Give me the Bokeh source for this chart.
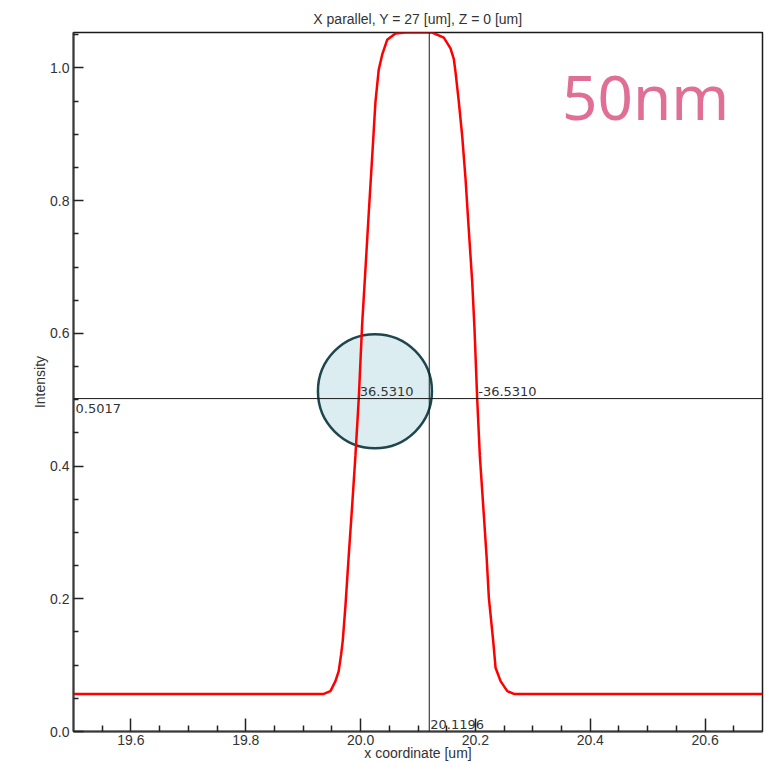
from bokeh.plotting import figure
from bokeh.models import Span, Label, FixedTicker, Range1d, ColumnDataSource
from bokeh.embed import file_html
from bokeh.resources import INLINE

# ---- data ----
title_text = "X parallel, Y = 27 [um], Z = 0 [um]"
x_label = "x coordinate [um]"
y_label = "Intensity"

profile_x = [19.50, 19.9358, 19.9475, 19.9562, 19.9619, 19.9661, 19.9689, 19.9736,
             19.9793, 19.9853, 19.9910, 19.9968, 20.0027, 20.0085, 20.0142, 20.0201,
             20.0259, 20.0316, 20.0376, 20.0463, 20.0607, 20.0780, 20.1247, 20.1450,
             20.1566, 20.1624, 20.1653, 20.1711, 20.1770, 20.1828, 20.1885, 20.1944,
             20.1984, 20.2031, 20.2077, 20.2136, 20.2194, 20.2234, 20.2310, 20.2351,
             20.2438, 20.2555, 20.2670, 20.70]
profile_y = [0.0567, 0.0567, 0.0608, 0.0759, 0.0910, 0.1162, 0.1363, 0.1890,
             0.2644, 0.3399, 0.4153, 0.5015, 0.6132, 0.6971, 0.7810, 0.8649,
             0.9488, 0.9973, 1.0200, 1.0424, 1.0520, 1.0534, 1.0534, 1.0457,
             1.0296, 1.0134, 0.9941, 0.9488, 0.8972, 0.8326, 0.7552, 0.6778,
             0.6067, 0.5015, 0.4153, 0.3399, 0.2644, 0.2015, 0.1363, 0.0960,
             0.0759, 0.0608, 0.0567, 0.0567]

x_range_lim = [19.5, 20.7]
y_range_lim = [0.0, 1.0534]

x_major = [19.6, 19.8, 20.0, 20.2, 20.4, 20.6]
x_tick_labels = ["19.6", "19.8", "20.0", "20.2", "20.4", "20.6"]
x_minor = [19.55, 19.65, 19.7, 19.75, 19.85, 19.9, 19.95, 20.05, 20.1, 20.15,
           20.25, 20.3, 20.35, 20.45, 20.5, 20.55, 20.65]
y_major = [0.0, 0.2, 0.4, 0.6, 0.8, 1.0]
y_tick_labels = ["0.0", "0.2", "0.4", "0.6", "0.8", "1.0"]
y_minor = [0.05, 0.1, 0.15, 0.25, 0.3, 0.35, 0.45, 0.5, 0.55, 0.65, 0.7, 0.75,
           0.85, 0.9, 0.95, 1.05]

cursor_x = 20.1196
cursor_y = 0.5017
cursor_x_text = "20.1196"
cursor_y_text = "0.5017"
left_cross_x = 19.9968
right_cross_x = 20.2031
left_cross_text = "36.5310"
right_cross_text = "-36.5310"

marker_x = [20.025]
marker_y = [0.5128]

tag_text = "50nm"
tag_x = 20.351
tag_y = 0.958

# ---- figure ----
p = figure(width=772, height=763, output_backend="svg", toolbar_location=None,
           x_range=Range1d(*x_range_lim), y_range=Range1d(*y_range_lim),
           min_border_left=73, min_border_right=10, min_border_top=32,
           min_border_bottom=32, background_fill_color="white",
           border_fill_color="white")

p.title.text = title_text
p.title.align = "center"
p.title.text_font = "Liberation Sans"
p.title.text_font_size = "14px"
p.title.text_font_style = "normal"
p.title.text_color = "#333333"
p.title.standoff = 12
p.title.offset = 3

p.xgrid.visible = False
p.ygrid.visible = False
p.outline_line_color = "#1a1a1a"
p.outline_line_width = 1.5

circ_src = ColumnDataSource(dict(x=marker_x, y=marker_y))
p.scatter("x", "y", source=circ_src, marker="circle", size=114,
          fill_color="#DCEDF2", line_color="#1E474D", line_width=2.5)

prof_src = ColumnDataSource(dict(x=profile_x, y=profile_y))
p.line("x", "y", source=prof_src, line_color="#FF0000", line_width=2.5)

p.add_layout(Span(location=cursor_x, dimension="height", line_color="#1a1a1a", line_width=1))
p.add_layout(Span(location=cursor_y, dimension="width", line_color="#1a1a1a", line_width=1))

lab_style = dict(text_font="DejaVu Sans", text_font_size="13px", text_color="#333333")
p.add_layout(Label(x=x_range_lim[0], y=cursor_y, text=cursor_y_text, x_offset=2, y_offset=-5,
                   text_baseline="top", **lab_style))
p.add_layout(Label(x=left_cross_x, y=cursor_y, text=left_cross_text, x_offset=1, y_offset=7,
                   text_baseline="alphabetic", **lab_style))
p.add_layout(Label(x=right_cross_x, y=cursor_y, text=right_cross_text, x_offset=1, y_offset=7,
                   text_baseline="alphabetic", **lab_style))
p.add_layout(Label(x=cursor_x, y=y_range_lim[0], text=cursor_x_text, x_offset=1, y_offset=7,
                   text_baseline="alphabetic", **lab_style))

p.add_layout(Label(x=tag_x, y=tag_y, text=tag_text, text_font="Noto Sans",
                   text_font_size="62px", text_color="#DF6F94", text_baseline="alphabetic"))

for ax, major, minor, labels in ((p.xaxis, x_major, x_minor, x_tick_labels),
                                 (p.yaxis, y_major, y_minor, y_tick_labels)):
    ax.ticker = FixedTicker(ticks=major, minor_ticks=minor)
    ax.major_label_overrides = {v: s for v, s in zip(major, labels)}
    ax.axis_line_color = "#3a3a3a"
    ax.axis_line_width = 2
    ax.major_tick_line_color = "#222222"
    ax.minor_tick_line_color = "#222222"
    ax.major_tick_line_width = 1.5
    ax.minor_tick_line_width = 1.5
    ax.major_tick_out = 0
    ax.minor_tick_out = 0
    ax.major_label_text_font = "Liberation Sans"
    ax.major_label_text_font_size = "14px"
    ax.major_label_text_color = "#333333"
    ax.axis_label_text_font = "Liberation Sans"
    ax.axis_label_text_font_size = "14px"
    ax.axis_label_text_font_style = "normal"
    ax.axis_label_text_color = "#333333"

p.xaxis.axis_label = x_label
p.yaxis.axis_label = y_label
p.xaxis.major_tick_in = 13
p.xaxis.minor_tick_in = 6
p.yaxis.major_tick_in = 10
p.yaxis.minor_tick_in = 5
p.xaxis.major_label_standoff = 3
p.xaxis.axis_label_standoff = -3
p.yaxis.major_label_standoff = 4
p.yaxis.axis_label_standoff = -1

open("out.html", "w").write(file_html(p, INLINE))
